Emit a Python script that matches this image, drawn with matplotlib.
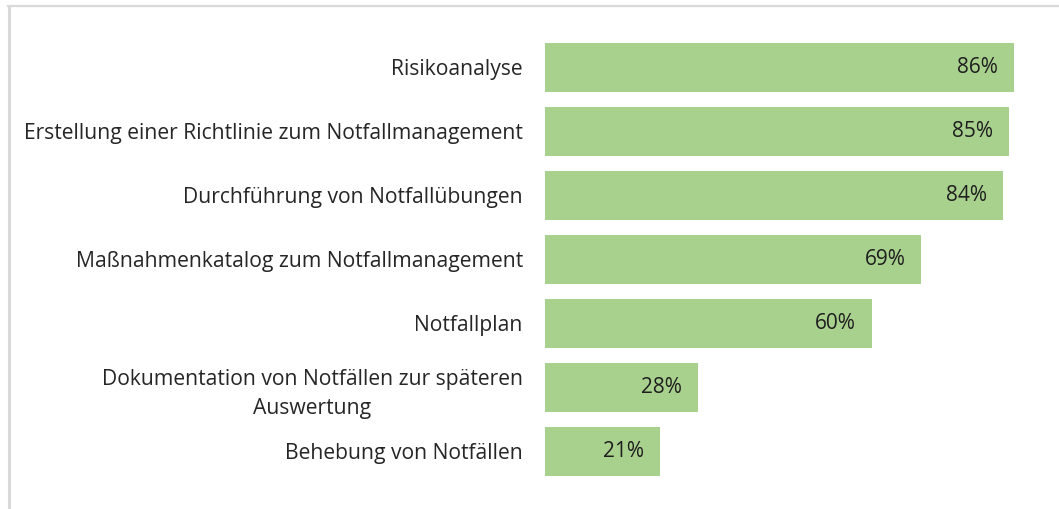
import matplotlib.pyplot as plt
from matplotlib.lines import Line2D

# Daten
kategorien = [
    "Risikoanalyse",
    "Erstellung einer Richtlinie zum Notfallmanagement",
    "Durchführung von Notfallübungen",
    "Maßnahmenkatalog zum Notfallmanagement",
    "Notfallplan",
    "Dokumentation von Notfällen zur späteren\nAuswertung",
    "Behebung von Notfällen",
]
werte = [86, 85, 84, 69, 60, 28, 21]

W, H = 1059, 509
fig = plt.figure(figsize=(W / 100, H / 100), dpi=100)
plt.rcParams['font.family'] = ['Open Sans', 'DejaVu Sans']

# Rahmen (nur oben und links sichtbar)
fig.add_artist(Line2D([7.5 / W, 1.0], [1 - 6 / H, 1 - 6 / H], color='#d9d9d9', lw=1.6,
                      transform=fig.transFigure))
fig.add_artist(Line2D([8.5 / W, 8.5 / W], [0.0, 1 - 6 / H], color='#d9d9d9', lw=2.2,
                      transform=fig.transFigure))

# Achsen in Pixelkoordinaten
x0, x1 = 545, 1040
y_top, y_bot = 35.5, 483.5
ax = fig.add_axes([x0 / W, 1 - y_bot / H, (x1 - x0) / W, (y_bot - y_top) / H])
skala = (1014 - 545) / 86
ax.set_xlim(0, (x1 - x0) / skala)
ax.set_ylim(len(werte) - 0.5, -0.5)

pos = list(range(len(werte)))
ax.barh(pos, werte, height=0.766, color='#a9d18e', edgecolor='none')

for p, v in zip(pos, werte):
    ax.text(v - 16 / skala, p, f"{v}%", ha='right', va='center',
            fontsize=15, color='#1e1e1e')

ax.set_yticks(pos)
ax.set_yticklabels(kategorien, fontsize=15.2, color='#262626', multialignment='center',
                   linespacing=1.5)
ax.tick_params(axis='y', length=0, pad=16)
ax.set_xticks([])
for s in ax.spines.values():
    s.set_visible(False)

fig.savefig('out.png', dpi=100)
